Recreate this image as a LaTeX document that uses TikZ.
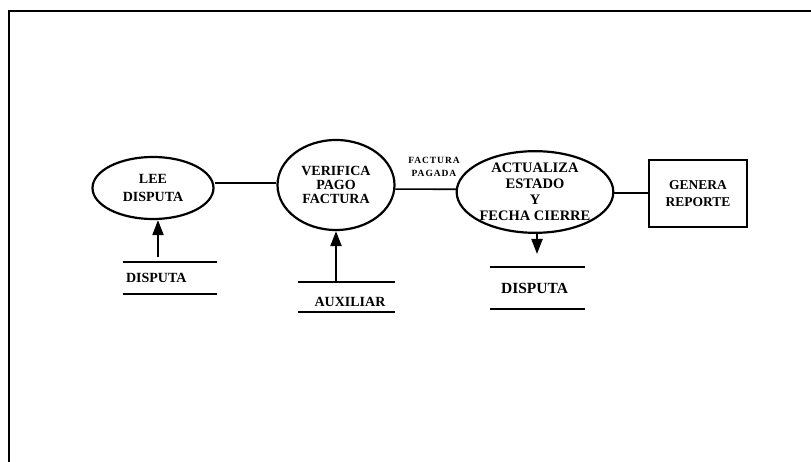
\documentclass[tikz,border=0pt]{standalone}
\usepackage{fontspec}
\setmainfont{Liberation Serif}
\usetikzlibrary{shapes.geometric,arrows.meta}
\tikzset{
  proc/.style={ellipse,draw,line width=2.2pt,inner sep=0pt,align=center,
    font=\fontsize{14}{14}\selectfont\bfseries},
  box/.style={rectangle,draw,line width=2.2pt,inner sep=0pt,align=center,
    minimum width=98pt,minimum height=67pt,font=\fontsize{13.5}{17}\selectfont\bfseries},
  store/.style={rectangle,draw=none,inner sep=0pt},
  storelbl/.style={inner sep=0pt,font=\fontsize{14}{15}\selectfont\bfseries},
  storeline/.style={line width=2pt},
  flow/.style={line width=1.6pt},
  inflow/.style={line width=2pt,-{Triangle[length=15pt,width=11pt]}},
  smalllbl/.style={inner sep=0pt,align=center,
    font=\fontsize{9.5}{13}\selectfont\bfseries\addfontfeatures{LetterSpace=10}},
  frame/.style={line width=2.6pt}
}
\begin{document}
\begin{tikzpicture}[x=1pt,y=-1pt]
\useasboundingbox (0,0) rectangle (811,462);
% frame
\coordinate (ftop) at (811,11);
\coordinate (fcorner) at (9,11);
\coordinate (fbot) at (9,462);
\draw[frame] (ftop) -- (fcorner) -- (fbot);
% processes
\node[proc,minimum width=121pt,minimum height=62pt,font=\fontsize{14}{18}\selectfont\bfseries] (e1) at (153,188) {LEE\\DISPUTA};
\node[proc,minimum width=117pt,minimum height=90pt] (e2) at (336,185) {VERIFICA\\PAGO\\FACTURA};
\node[proc,minimum width=130pt,minimum height=80pt,font=\fontsize{14.5}{16}\selectfont\bfseries] (e3) at (535,192) {ACTUALIZA\\ESTADO\\Y\\FECHA CIERRE};
\node[box] (r) at (698,193.5) {GENERA\\REPORTE};
% flows between processes
\draw[flow] (e1.east |- 0,183) -- (e2.west |- 0,183);
\draw[flow] (e2.-4) -- (e3.178);
\draw[flow,line width=2pt] (e3.east |- r.west) -- (r.west);
\node[smalllbl] (lbl) at (434,167) {FACTURA\\PAGADA};
% data stores
\node[store,minimum width=94pt,minimum height=32pt] (s1) at (170,278) {};
\node[storelbl,anchor=west] (s1t) at ([xshift=3pt]s1.west) {DISPUTA};
\draw[storeline] (s1.north west) -- (s1.north east);
\draw[storeline] (s1.south west) -- (s1.south east);

\node[store,minimum width=97pt,minimum height=30pt] (s2) at (346.5,297) {};
\node[storelbl] (s2t) at (350,302) {AUXILIAR};
\draw[storeline] (s2.north west) -- (s2.north east);
\draw[storeline] (s2.south west) -- (s2.south east);

\node[store,minimum width=95pt,minimum height=42pt] (s3) at (537.5,288) {};
\node[storelbl,font=\fontsize{15.5}{16}\selectfont\bfseries] (s3t) at (534.5,288) {DISPUTA};
\draw[storeline] (s3.north west) -- (s3.north east);
\draw[storeline] (s3.south west) -- (s3.south east);
% arrows with stores
\coordinate (a1) at (158,257);
\draw[inflow] (a1) -- (a1 |- e1.south);
\draw[inflow] (s2.north -| e2.south) -- (e2.south);
\coordinate (a3) at (537,254);
\draw[inflow] (a3 |- e3.south) -- (a3);
\end{tikzpicture}
\end{document}
